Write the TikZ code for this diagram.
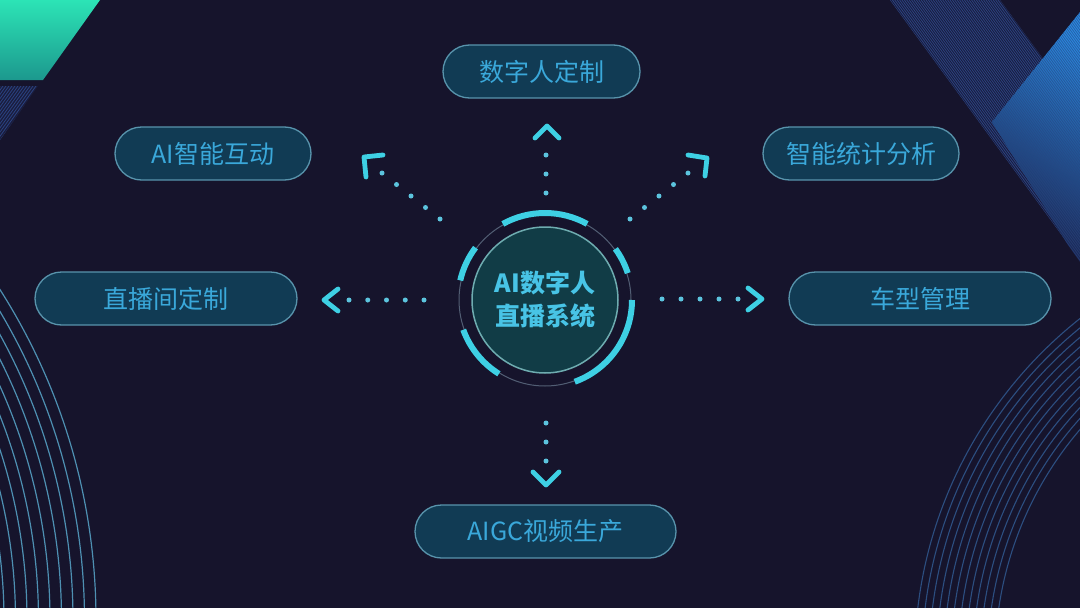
\documentclass[tikz,border=0pt]{standalone}
\usepackage{fontspec}
\setmainfont{Noto Sans CJK SC}
\definecolor{bg}{RGB}{22,20,44}
\definecolor{boxfill}{RGB}{17,59,84}
\definecolor{boxline}{RGB}{88,148,172}
\definecolor{txt}{RGB}{58,168,218}
\definecolor{ctxt}{RGB}{72,196,230}
\definecolor{cyanA}{RGB}{62,208,228}
\definecolor{dotc}{RGB}{92,196,222}
\definecolor{ringc}{RGB}{82,94,116}
\definecolor{innerfill}{RGB}{17,60,70}
\definecolor{innerline}{RGB}{110,172,176}
\definecolor{arcL}{RGB}{78,144,178}
\definecolor{arcR}{RGB}{44,78,128}
\definecolor{stripe}{RGB}{42,66,130}
\definecolor{greenT}{RGB}{44,228,182}
\definecolor{greenB}{RGB}{28,152,142}
\definecolor{blueT}{RGB}{40,140,226}
\definecolor{blueM}{RGB}{30,76,150}
\definecolor{blueB}{RGB}{26,34,74}
\begin{document}
\begin{tikzpicture}[x=1pt,y=-1pt,
  pill/.style={draw=boxline, line width=1.3pt, fill=boxfill, rounded corners=26.5pt,
    minimum height=53pt, text=txt, font=\fontsize{25}{28}\selectfont, inner sep=0pt},
  dotchain/.style={draw=dotc, line width=5pt, line cap=round, dash pattern=on 0pt off #1},
  chev/.style={draw=cyanA, line width=4.8pt, line cap=round, line join=round},
  ringarc/.style={draw=cyanA, line width=6pt},
  bgarcL/.style={draw=arcL, line width=1.2pt},
  bgarcR/.style={draw=arcR, line width=1.1pt},
  stripeline/.style={draw=stripe, line width=0.8pt}
  ]
% background
\fill[bg] (0,0) rectangle (1080,608);
\useasboundingbox (0,0) rectangle (1080,608);

\begin{scope}
  \clip (0,0) rectangle (1080,608);
  % top-left green shape
  \shade[top color=greenT, bottom color=greenB] (0,0) -- (100,0) -- (43,80) -- (0,80) -- cycle;
  \begin{scope}
    \clip (0,86) -- (38,86) -- (0,140) -- cycle;
    \fill[bg!80!stripe] (0,86) rectangle (40,140);
    \foreach \o in {0,3,...,90} \draw[stripeline] (\o,86) -- (\o-43,146);
  \end{scope}
  % top-right striped band
  \begin{scope}
    \clip (890,0) -- (1000,0) -- (1260,356) -- (1150,356) -- cycle;
    \fill[bg!82!stripe] (880,0) rectangle (1080,300);
    \foreach \o in {0,2.4,...,112} \draw[stripeline] (890+\o,0) -- (890+\o+292,400);
  \end{scope}
  % top-right bright band
  \begin{scope}
    \clip (1080,12) -- (992,122) -- (1068,245) -- (1080,262) -- cycle;
    \shade[top color=blueT, middle color=blueM, bottom color=blueB, shading angle=-30] (990,0) rectangle (1080,262);
    \foreach \o in {0,2.4,...,240} \draw[stripeline, opacity=0.6] (890+\o,0) -- (890+\o+292,400);
  \end{scope}
  % bottom-left concentric arcs
  \foreach \r in {524,535.5,...,622} \draw[bgarcL] (-520,620) circle[radius=\r];
  % bottom-right concentric arcs
  \foreach \r in {355,362.3,...,436} \draw[bgarcR] (1350,660) circle[radius=\r];
\end{scope}

% outer boxes
\node[pill, minimum width=197pt] (n1) at (541.5,71.5) {数字人定制};
\node[pill, minimum width=196pt] (n2) at (213,153.5) {AI智能互动};
\node[pill, minimum width=196pt] (n3) at (861,153.5) {智能统计分析};
\node[pill, minimum width=262pt] (n4) at (166,298.5) {直播间定制};
\node[pill, minimum width=262pt] (n5) at (920,298.5) {车型管理};
\node[pill, minimum width=261pt] (n6) at (545.5,531.5) {AIGC视频生产};

% central hub
\node[circle, minimum size=146pt, inner sep=0pt, fill=innerfill, draw=innerline, line width=1.5pt,
  text=ctxt, align=center, font=\fontsize{25}{33}\selectfont\bfseries] (c) at (545,300)
  {AI数字人\\直播系统};
\draw[ringc, line width=1pt] (c.center) circle[radius=86];
\foreach \a/\b in {-61/-119, -18/-36, 70/0, -143/-167, 160/122}
  \draw[ringarc] ([shift={(\a:87)}]c.center) arc[start angle=\a, end angle=\b, radius=87];

% dotted connectors
\coordinate (L1) at (424,300); \coordinate (L2) at (347.5,300);
\coordinate (R1) at (662,299); \coordinate (R2) at (738.5,299);
\coordinate (T1) at (546,193); \coordinate (T2) at (546,154.5);
\coordinate (B1) at (546,423); \coordinate (B2) at (546,461.5);
\coordinate (UL1) at (440,219); \coordinate (UL2) at (381.6,172.7);
\coordinate (UR1) at (630,219); \coordinate (UR2) at (688.4,172.7);
\draw[dotchain=18.75] (L1) -- (L2);
\draw[dotchain=19] (R1) -- (R2);
\draw[dotchain=19] (T1) -- (T2);
\draw[dotchain=19] (B1) -- (B2);
\draw[dotchain=18.5] (UL1) -- (UL2);
\draw[dotchain=18.5] (UR1) -- (UR2);

% chevrons
\draw[chev] (338,289) -- (324,300) -- (338,311);
\draw[chev] (748,288) -- (762,299) -- (748,310);
\draw[chev] (535,138) -- (547,126) -- (559,138);
\draw[chev] (533,472) -- (546,485) -- (559,472);
\draw[chev] (383,155) -- (364,157) -- (366,177);
\draw[chev] (688,155) -- (707,158) -- (705,176);
\end{tikzpicture}
\end{document}
